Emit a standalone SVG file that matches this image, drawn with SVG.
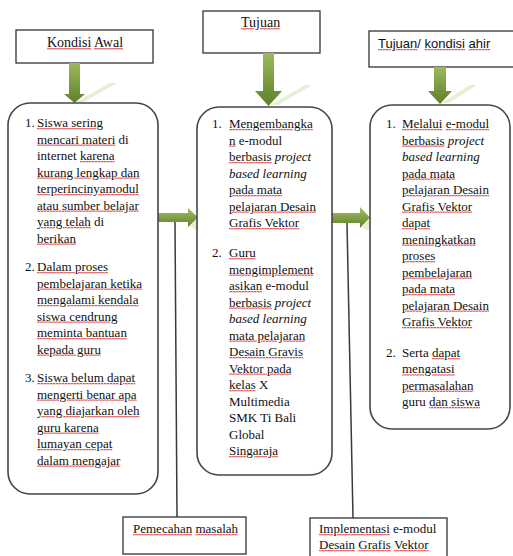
<svg xmlns="http://www.w3.org/2000/svg" width="513" height="556" viewBox="0 0 513 556">
<defs>
<linearGradient id="gv" x1="0" y1="0" x2="0" y2="1">
<stop offset="0" stop-color="#9bbb59"/><stop offset="1" stop-color="#5f7f2a"/>
</linearGradient>
<linearGradient id="gh" x1="0" y1="0" x2="0" y2="1">
<stop offset="0" stop-color="#a4c262"/><stop offset="1" stop-color="#5f7f2a"/>
</linearGradient>
<pattern id="sq" width="3" height="2" patternUnits="userSpaceOnUse">
<rect width="3" height="2" fill="#f2b0b0"/>
<path d="M0,1.6 L1.5,0.4 L3,1.6" fill="none" stroke="#e01818" stroke-width="0.9"/>
</pattern>
<style>
.box{fill:#fff;stroke:#333;stroke-width:1.3}
.rbox{fill:#fff;stroke:#454545;stroke-width:1.6}
.t{font-family:"Liberation Serif","Times New Roman",serif;font-size:13px;fill:#111}
.ts{font-family:"Liberation Sans",Arial,sans-serif;font-size:13px;fill:#111}
.i{font-style:italic}
.u{fill:url(#sq);text-decoration:underline;text-decoration-thickness:2px;text-underline-offset:1px}
.u tspan,.k{fill:#111}
.ln{stroke:#3a3a3a;stroke-width:1.5;fill:none}
.refl{fill:#d4e4b8;opacity:0.6}
</style>
</defs>

<g id="kondisi-awal">
<rect class="box" x="16" y="30" width="137" height="33"/>
<text class="t" x="85" y="47" text-anchor="middle" style="font-size:14px"><tspan class="u"><tspan>Kondisi</tspan></tspan> <tspan class="u"><tspan>Awal</tspan></tspan></text>
</g>

<g id="tujuan">
<rect class="box" x="203" y="11" width="117" height="42"/>
<text class="t" x="241" y="27" style="font-size:14px"><tspan class="u"><tspan>Tujuan</tspan></tspan></text>
</g>

<g id="tujuan-ahir">
<rect class="box" x="369" y="31" width="150" height="36"/>
<text class="ts" x="378" y="48"><tspan class="u"><tspan>Tujuan</tspan></tspan>/ <tspan class="u"><tspan>kondisi</tspan></tspan> <tspan class="u"><tspan>ahir</tspan></tspan></text>
</g>

<g id="connectors">
<polygon points="69,63 80,63 80,94 85,94 74.5,103 64,94 69,94" fill="url(#gv)"/>
<polygon class="refl" points="76,102 110,83 117,83 84,102"/>
<polygon points="263,53 274,53 274,91 282,91 268.5,106 255,91 263,91" fill="url(#gv)"/>
<polygon class="refl" points="270,105 305,85 312,85 278,105"/>
<polygon points="434,67 446,67 446,91 452,91 440,104 428,91 434,91" fill="url(#gv)"/>
<polygon class="refl" points="441,103 470,85 477,85 449,103"/>
<polygon points="158,213 188,213 188,208 198,217.5 188,227 188,222 158,222" fill="url(#gh)"/>
<polygon class="refl" points="190,226 198,217 204,219 196,230"/>
<polygon points="332,213 360,213 360,207 370,217.5 360,228 360,223 332,223" fill="url(#gh)"/>
<polygon class="refl" points="362,227 370,218 376,220 368,231"/>
<line class="ln" x1="175" y1="222" x2="177" y2="517"/>
<line class="ln" x1="347" y1="223" x2="353" y2="518"/>
</g>

<g id="kondisi-awal-list">
<rect class="rbox" x="8" y="103" width="150" height="391" rx="22"/>
<text class="t" x="25" y="127">1.</text>
<text class="t" x="37" y="127"><tspan class="u"><tspan>Siswa sering</tspan></tspan></text>
<text class="t" x="37" y="143.5"><tspan class="u"><tspan>mencari materi</tspan></tspan> di</text>
<text class="t" x="37" y="160">internet <tspan class="u"><tspan>karena</tspan></tspan></text>
<text class="t" x="37" y="176.5"><tspan class="u"><tspan>kurang lengkap dan</tspan></tspan></text>
<text class="t" x="37" y="193"><tspan class="u"><tspan>terperincinyamodul</tspan></tspan></text>
<text class="t" x="37" y="209.5"><tspan class="u"><tspan>atau sumber belajar</tspan></tspan></text>
<text class="t" x="37" y="226"><tspan class="u"><tspan>yang telah</tspan></tspan> di</text>
<text class="t" x="37" y="242.5"><tspan class="u"><tspan>berikan</tspan></tspan></text>
<text class="t" x="25" y="271">2.</text>
<text class="t" x="37" y="271"><tspan class="u"><tspan>Dalam proses</tspan></tspan></text>
<text class="t" x="37" y="287.5"><tspan class="u"><tspan>pembelajaran ketika</tspan></tspan></text>
<text class="t" x="37" y="304"><tspan class="u"><tspan>mengalami kendala</tspan></tspan></text>
<text class="t" x="37" y="320.5"><tspan class="u"><tspan>siswa cendrung</tspan></tspan></text>
<text class="t" x="37" y="337"><tspan class="u"><tspan>meminta bantuan</tspan></tspan></text>
<text class="t" x="37" y="353.5"><tspan class="u"><tspan>kepada guru</tspan></tspan></text>
<text class="t" x="25" y="382">3.</text>
<text class="t" x="37" y="382"><tspan class="u"><tspan>Siswa belum dapat</tspan></tspan></text>
<text class="t" x="37" y="398.5"><tspan class="u"><tspan>mengerti benar apa</tspan></tspan></text>
<text class="t" x="37" y="415"><tspan class="u"><tspan>yang diajarkan oleh</tspan></tspan></text>
<text class="t" x="37" y="431.5"><tspan class="u"><tspan>guru karena</tspan></tspan></text>
<text class="t" x="37" y="448"><tspan class="u"><tspan>lumayan cepat</tspan></tspan></text>
<text class="t" x="37" y="464.5"><tspan class="u"><tspan>dalam mengajar</tspan></tspan></text>
</g>

<g id="tujuan-list">
<rect class="rbox" x="197" y="107" width="135" height="368" rx="22"/>
<text class="t" x="212" y="128">1.</text>
<text class="t" x="229" y="128"><tspan class="u"><tspan>Mengembangka</tspan></tspan></text>
<text class="t" x="229" y="144.5"><tspan class="u"><tspan>n</tspan></tspan> e-modul</text>
<text class="t" x="229" y="161"><tspan class="u"><tspan>berbasis</tspan></tspan> <tspan class="i">project</tspan></text>
<text class="t i" x="229" y="177.5">based learning</text>
<text class="t" x="229" y="194"><tspan class="u"><tspan>pada mata</tspan></tspan></text>
<text class="t" x="229" y="210.5"><tspan class="u"><tspan>pelajaran Desain</tspan></tspan></text>
<text class="t" x="229" y="227"><tspan class="u"><tspan>Grafis Vektor</tspan></tspan></text>
<text class="t" x="212" y="257">2.</text>
<text class="t" x="229" y="257"><tspan class="u"><tspan>Guru</tspan></tspan></text>
<text class="t" x="229" y="273.5"><tspan class="u"><tspan>mengimplement</tspan></tspan></text>
<text class="t" x="229" y="290"><tspan class="u"><tspan>asikan</tspan></tspan> e-modul</text>
<text class="t" x="229" y="306.5"><tspan class="u"><tspan>berbasis</tspan></tspan> <tspan class="i">project</tspan></text>
<text class="t i" x="229" y="323">based learning</text>
<text class="t" x="229" y="339.5"><tspan class="u"><tspan>mata pelajaran</tspan></tspan></text>
<text class="t" x="229" y="356"><tspan class="u"><tspan>Desain Gravis</tspan></tspan></text>
<text class="t" x="229" y="372.5"><tspan class="u"><tspan>Vektor pada</tspan></tspan></text>
<text class="t" x="229" y="389"><tspan class="u"><tspan>kelas</tspan></tspan> X</text>
<text class="t" x="229" y="405.5">Multimedia</text>
<text class="t" x="229" y="422">SMK Ti Bali</text>
<text class="t" x="229" y="438.5">Global</text>
<text class="t" x="229" y="455"><tspan class="u"><tspan>Singaraja</tspan></tspan></text>
</g>

<g id="tujuan-ahir-list">
<rect class="rbox" x="370" y="105" width="140" height="324" rx="22"/>
<text class="t" x="386" y="128">1.</text>
<text class="t" x="402" y="128"><tspan class="u"><tspan>Melalui</tspan></tspan> <tspan class="u"><tspan>e-modul</tspan></tspan></text>
<text class="t" x="402" y="144.5"><tspan class="u"><tspan>berbasis</tspan></tspan> <tspan class="i">project</tspan></text>
<text class="t i" x="402" y="161">based learning</text>
<text class="t" x="402" y="177.5"><tspan class="u"><tspan>pada mata</tspan></tspan></text>
<text class="t" x="402" y="194"><tspan class="u"><tspan>pelajaran Desain</tspan></tspan></text>
<text class="t" x="402" y="210.5"><tspan class="u"><tspan>Grafis Vektor</tspan></tspan></text>
<text class="t" x="402" y="227"><tspan class="u"><tspan>dapat</tspan></tspan></text>
<text class="t" x="402" y="243.5"><tspan class="u"><tspan>meningkatkan</tspan></tspan></text>
<text class="t" x="402" y="260"><tspan class="u"><tspan>proses</tspan></tspan></text>
<text class="t" x="402" y="276.5"><tspan class="u"><tspan>pembelajaran</tspan></tspan></text>
<text class="t" x="402" y="293"><tspan class="u"><tspan>pada mata</tspan></tspan></text>
<text class="t" x="402" y="309.5"><tspan class="u"><tspan>pelajaran Desain</tspan></tspan></text>
<text class="t" x="402" y="326"><tspan class="u"><tspan>Grafis Vektor</tspan></tspan></text>
<text class="t" x="386" y="357">2.</text>
<text class="t" x="402" y="357">Serta <tspan class="u"><tspan>dapat</tspan></tspan></text>
<text class="t" x="402" y="373.3"><tspan class="u"><tspan>mengatasi</tspan></tspan></text>
<text class="t" x="402" y="389.6"><tspan class="u"><tspan>permasalahan</tspan></tspan></text>
<text class="t" x="402" y="406">guru <tspan class="u"><tspan>dan siswa</tspan></tspan></text>
</g>

<g id="pemecahan-masalah">
<rect class="box" x="123" y="517" width="123" height="37"/>
<text class="t" x="133" y="533"><tspan class="u"><tspan>Pemecahan</tspan></tspan> <tspan class="u"><tspan>masalah</tspan></tspan></text>
</g>

<g id="implementasi">
<rect class="box" x="310" y="518" width="137" height="40"/>
<text class="t" x="319" y="533"><tspan class="u"><tspan>Implementasi</tspan></tspan> e-modul</text>
<text class="t" x="319" y="549"><tspan class="u"><tspan>Desain</tspan></tspan> <tspan class="u"><tspan>Grafis</tspan></tspan> <tspan class="u"><tspan>Vektor</tspan></tspan></text>
</g>
</svg>
